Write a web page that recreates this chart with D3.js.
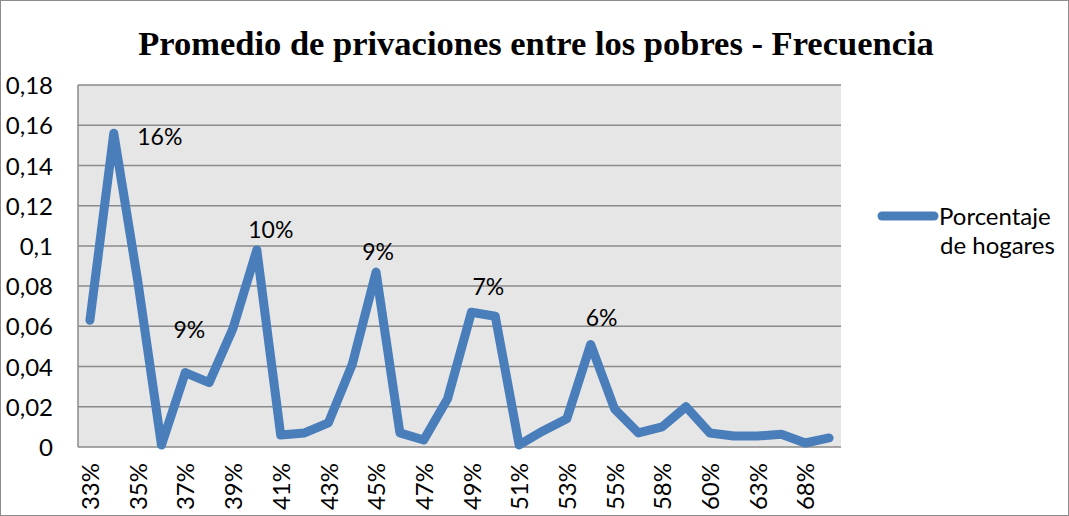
<!DOCTYPE html>
<html>
<head>
<meta charset="utf-8">
<script src="https://cdn.jsdelivr.net/npm/d3@7"></script>
<style>
  body { margin: 0; background: #fff; }
  svg { display: block; }
  .axis text { font-family: Lato, "Open Sans", sans-serif; font-size: 24px; fill: #000; }
  .axis path, .axis line { stroke: none; }
</style>
</head>
<body>
<svg width="1069" height="516"></svg>
<script>
// categorias (promedio de privaciones) y frecuencia
let categories = ["33%","34%","35%","36%","37%","38%","39%","40%","41%","42%","43%","44%",
                  "45%","46%","47%","48%","49%","50%","51%","52%","53%","54%","55%","56%",
                  "58%","59%","60%","62%","63%","65%","68%","70%"];
let values = [0.063, 0.156, 0.083, 0.001, 0.037, 0.032, 0.059, 0.098, 0.006, 0.007, 0.012, 0.041,
              0.087, 0.007, 0.0035, 0.024, 0.067, 0.065, 0.001, 0.008, 0.014, 0.051,
              0.019, 0.007, 0.010, 0.020, 0.007, 0.0055, 0.0055, 0.0063, 0.002, 0.0045];
let yTicks = [0, 0.02, 0.04, 0.06, 0.08, 0.1, 0.12, 0.14, 0.16, 0.18];
let labelIndex = [1, 4, 7, 12, 16, 21];
let labelText = ["16%", "9%", "10%", "9%", "7%", "6%"];
let seriesName = ["Porcentaje", "de hogares"];

var svg = d3.select("svg"),
    width = +svg.attr("width"),
    height = +svg.attr("height");

var blue = "#4a7ebb";
var plot = {left: 78, right: 841, top: 85, bottom: 447};

// marco exterior
svg.append("rect")
    .attr("x", 0.5).attr("y", 0.5)
    .attr("width", width - 1).attr("height", height - 1)
    .attr("fill", "#fff").attr("stroke", "#8c8c8c");

svg.append("text")
    .attr("x", 536).attr("y", 55)
    .attr("text-anchor", "middle")
    .attr("font-family", "'Liberation Serif', 'Times New Roman', serif")
    .attr("font-weight", "bold")
    .attr("font-size", "34.5px")
    .text("Promedio de privaciones entre los pobres - Frecuencia");

let x = d3.scalePoint()
    .domain(categories)
    .range([plot.left, plot.right])
    .padding(0.5);

let y = d3.scaleLinear()
    .domain([0, 0.18])
    .range([plot.bottom, plot.top]);

svg.append("rect")
    .attr("x", plot.left).attr("y", plot.top)
    .attr("width", plot.right - plot.left).attr("height", plot.bottom - plot.top)
    .attr("fill", "#e6e6e6");

// lineas de cuadricula
svg.append("g")
    .selectAll("line")
    .data(yTicks)
    .enter().append("line")
    .attr("x1", plot.left).attr("x2", plot.right)
    .attr("y1", d => y(d)).attr("y2", d => y(d))
    .attr("stroke", "#8a8a8a")
    .attr("stroke-width", 1.5);

svg.append("line")
    .attr("x1", plot.left).attr("x2", plot.left)
    .attr("y1", plot.top).attr("y2", plot.bottom)
    .attr("stroke", "#8a8a8a").attr("stroke-width", 1.5);

svg.append("g")
    .attr("class", "axis")
    .attr("transform", "translate(" + plot.left + ",0)")
    .call(d3.axisLeft(y).tickValues(yTicks).tickSize(0).tickPadding(25)
        .tickFormat(d => String(d).replace(".", ",")))
    .selectAll("text").attr("dy", "0.36em");

var xAxis = svg.append("g")
    .attr("class", "axis")
    .attr("transform", "translate(0," + plot.bottom + ")")
    .call(d3.axisBottom(x).tickValues(categories.filter((d, i) => i % 2 === 0)).tickSize(0));

xAxis.selectAll("text")
    .attr("transform", "rotate(-90)")
    .attr("text-anchor", "end")
    .attr("x", -16)
    .attr("y", 0)
    .attr("dy", "0.36em");

let line = d3.line()
    .x((d, i) => x(categories[i]))
    .y(d => y(d));

svg.append("path")
    .datum(values)
    .attr("d", line)
    .attr("fill", "none")
    .attr("stroke", blue)
    .attr("stroke-width", 9)
    .attr("stroke-linejoin", "round")
    .attr("stroke-linecap", "round");

// etiquetas de datos (colocadas a mano, como en el original)
let labelShift = [[46, 12], [4, -35], [14, -12], [2, -12], [17, -17], [11, -18]];
svg.append("g")
    .selectAll("text")
    .data(labelIndex)
    .enter().append("text")
    .attr("x", (d, i) => x(categories[d]) + labelShift[i][0])
    .attr("y", (d, i) => y(values[d]) + labelShift[i][1])
    .attr("text-anchor", "middle")
    .attr("font-family", "Lato, 'Open Sans', sans-serif")
    .attr("font-size", "23px")
    .text((d, i) => labelText[i]);

// leyenda
svg.append("line")
    .attr("x1", 882).attr("x2", 934)
    .attr("y1", 216).attr("y2", 216)
    .attr("stroke", blue).attr("stroke-width", 9)
    .attr("stroke-linecap", "round");

svg.append("text")
    .attr("font-family", "Lato, 'Open Sans', sans-serif")
    .attr("font-size", "24px")
    .selectAll("tspan")
    .data(seriesName)
    .enter().append("tspan")
    .attr("x", (d, i) => i === 0 ? 939 : 940)
    .attr("y", (d, i) => 225 + i * 29)
    .text(d => d);
</script>
</body>
</html>
